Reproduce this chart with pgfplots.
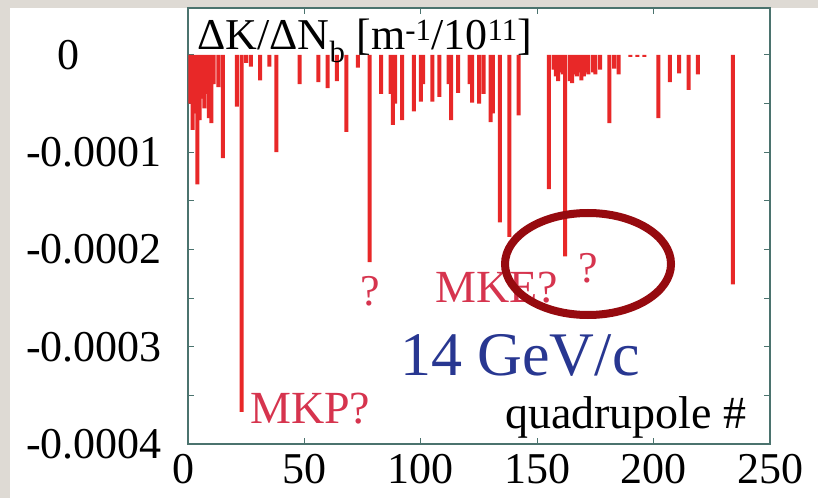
\documentclass[border=0pt]{standalone}
\usepackage{pgfplots}
\pgfplotsset{compat=1.18}
\usepackage{fontspec}
\setmainfont{Liberation Serif}
\definecolor{bggray}{RGB}{222,218,212}
\definecolor{barred}{RGB}{232,40,40}
\definecolor{framecol}{RGB}{75,115,110}
\definecolor{mkcol}{RGB}{214,52,78}
\definecolor{gevblue}{RGB}{40,55,145}
\definecolor{ellcol}{RGB}{150,10,15}
\begin{document}
\begin{tikzpicture}[x=1pt,y=1pt]
\fill[bggray] (0,0) rectangle (818,498);
\fill[white] (10,0) rectangle (818,490);
\begin{axis}[
  at={(188pt,54pt)}, anchor=south west,
  scale only axis, width=582pt, height=436pt,
  xmin=0, xmax=250, ymin=-0.0004, ymax=0.0000483,
  scaled y ticks=false, scaled x ticks=false,
  xtick={0,50,100,150,200,250},
  xticklabels={\makebox[22pt][r]{0\hspace{5pt}},50,100,150,200,250},
  ytick={-0.0004,-0.0003,-0.0002,-0.0001,0},
  yticklabels={-0.0004,-0.0003,-0.0002,-0.0001,\makebox[104pt][l]{0}},
  minor ytick={-0.00035,-0.00025,-0.00015,-0.00005},
  tick align=inside,
  major tick length=6pt, minor tick length=6pt,
  tick style={draw=framecol, line width=1pt},
  axis line style={draw=framecol, line width=1.5pt},
  tick label style={font=\fontsize{44}{48}\selectfont},
  xticklabel style={anchor=north, inner sep=0pt, yshift=-10pt},
  yticklabel style={anchor=east, inner sep=0pt, xshift=-26pt},
]
\addplot[ybar, bar width=4pt, fill=barred, draw=none] coordinates {
(1,-0.000050) (2,-0.000077) (3,-0.000060) (4,-0.000133) (5,-0.000067)
(6,-0.000045) (7,-0.000055) (8,-0.000040) (9,-0.000065) (10,-0.000070)
(11,-0.000030) (13,-0.000033) (15,-0.000106) (21,-0.000053) (23,-0.000367)
(25,-0.000008) (27,-0.000012) (31,-0.000026) (35,-0.000012) (38,-0.000100)
(48,-0.000030) (56,-0.000028) (60,-0.000034) (64,-0.000027) (68,-0.000079)
(73,-0.000013) (78,-0.000213) (83,-0.000040) (87,-0.000040) (88,-0.000072)
(89,-0.000050) (92,-0.000067) (97,-0.000058) (100,-0.000048) (101,-0.000030)
(105,-0.000048) (108,-0.000043) (112,-0.000030) (113,-0.000067) (116,-0.000039)
(121,-0.000030) (122,-0.000049) (125,-0.000050) (127,-0.000040) (130,-0.000069)
(131,-0.000060) (134,-0.000172) (138,-0.000187) (142,-0.000062) (155,-0.000138)
(157,-0.000015) (158,-0.000022) (159,-0.000027) (160,-0.000018) (161,-0.000020)
(162,-0.000207) (164,-0.000027) (165,-0.000029) (166,-0.000020) (167,-0.000022)
(168,-0.000018) (169,-0.000026) (170,-0.000022) (171,-0.000018) (172,-0.000020)
(174,-0.000018) (175,-0.000020) (177,-0.000015) (181,-0.000070) (183,-0.000014)
(185,-0.000020) (190,-0.000002) (193,-0.000002) (196,-0.000002) (202,-0.000065)
(207,-0.000028) (211,-0.000019) (215,-0.000036) (219,-0.000020) (234,-0.000236)
};
\end{axis}
\node[anchor=base west, inner sep=0pt, font=\fontsize{44}{48}\selectfont] at (197,448)
  {ΔK/ΔN\textsubscript{b} [m\textsuperscript{-1}/10\textsuperscript{11}]};
\node[anchor=base west, inner sep=0pt, text=mkcol, font=\fontsize{46}{50}\selectfont] at (250,75) {MKP?};
\node[anchor=base, inner sep=0pt, text=mkcol, font=\fontsize{44}{48}\selectfont] at (370,192) {?};
\node[anchor=base west, inner sep=0pt, text=mkcol, font=\fontsize{46}{50}\selectfont] at (435,195) {MKE?};
\node[anchor=base west, inner sep=0pt, text=mkcol, font=\fontsize{44}{48}\selectfont] at (578,215) {?};
\node[anchor=base west, inner sep=0pt, text=gevblue, font=\fontsize{62}{66}\selectfont] at (400,123) {14 GeV/c};
\node[anchor=base west, inner sep=0pt, font=\fontsize{46}{50}\selectfont] at (505,70) {quadrupole \#};
\draw[ellcol, line width=8pt] (588,234) ellipse [x radius=83, y radius=51];
\pgfresetboundingbox
\useasboundingbox (0,0) rectangle (818,498);
\end{tikzpicture}
\end{document}
